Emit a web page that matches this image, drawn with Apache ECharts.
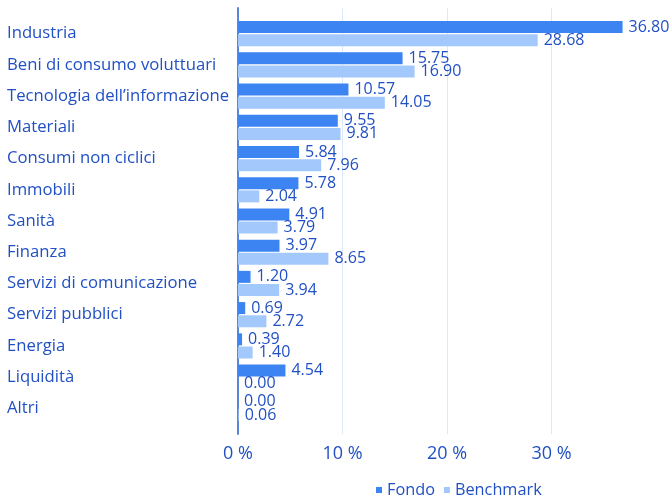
<!DOCTYPE html>
<html>
<head>
<meta charset="utf-8">
<script src="https://cdn.jsdelivr.net/npm/echarts@6/dist/echarts.min.js"></script>
<style>
  html, body { margin: 0; padding: 0; background: #fff; }
  #chart { width: 671px; height: 501px; }
</style>
</head>
<body>
<div id="chart"></div>
<script>
// ripartizione settoriale, Fondo vs Benchmark
var categories = ['Industria', 'Beni di consumo voluttuari', 'Tecnologia dell\u2019informazione', 'Materiali',
  'Consumi non ciclici', 'Immobili', 'Sanità', 'Finanza', 'Servizi di comunicazione',
  'Servizi pubblici', 'Energia', 'Liquidità', 'Altri']
var fondo = [36.80, 15.75, 10.57, 9.55, 5.84, 5.78, 4.91, 3.97, 1.20, 0.69, 0.39, 4.54, 0.00]
var benchmark = [28.68, 16.90, 14.05, 9.81, 7.96, 2.04, 3.79, 8.65, 3.94, 2.72, 1.40, 0.00, 0.06]
var xTicks = [0, 10, 20, 30]

var textColor = '#2150c4'
var font = 'Open Sans'

var chart = echarts.init(document.getElementById('chart'))

function barSeries(name, data, color) {
  return {
    name: name,
    type: 'bar',
    xAxisIndex: 0,
    yAxisIndex: 0,
    data: data,
    barWidth: 12,
    barGap: '10%',
    itemStyle: { color: color },
    label: {
      show: true,
      position: 'right',
      distance: 6,
      color: textColor,
      fontFamily: font,
      fontSize: 16,
      formatter: function (p) { return p.value.toFixed(2) }
    },
    emphasis: { disabled: true }
  }
}

chart.setOption({
  animation: false,
  textStyle: { fontFamily: font },
  legend: {
    left: 371,
    top: 477,
    icon: 'rect',
    itemWidth: 6,
    itemHeight: 6,
    itemGap: 9,
    textStyle: { color: textColor, fontSize: 16.3, fontFamily: font },
    data: ['Fondo', 'Benchmark']
  },
  grid: [
    // barre
    { left: 238, right: 15, top: 18, bottom: 77 },
    // assi e griglia
    { left: 238, right: 15, top: 8, bottom: 67 }
  ],
  xAxis: [
    {
      gridIndex: 0, type: 'value', min: 0, max: 40, interval: 10,
      show: false
    },
    {
      gridIndex: 1, type: 'value', min: 0, max: 40, interval: 10,
      axisLine: { show: false },
      axisTick: { show: false },
      splitLine: { show: true, showMaxLine: false, lineStyle: { color: '#dce8fb', width: 1 } },
      axisLabel: {
        showMaxLabel: false,
        margin: 11,
        color: textColor,
        fontSize: 18,
        fontFamily: font,
        formatter: function (v) { return xTicks.indexOf(v) >= 0 ? v + ' %' : '' }
      }
    }
  ],
  yAxis: [
    {
      gridIndex: 0, type: 'category', inverse: true, data: categories,
      axisLine: { show: false },
      axisTick: { show: false },
      splitLine: { show: false },
      axisLabel: {
        align: 'left',
        margin: 231,
        padding: [7, 0, 0, 0],
        color: textColor,
        fontSize: 16.7,
        fontFamily: font
      }
    },
    {
      gridIndex: 1, type: 'value', min: 0, max: 1,
      axisLine: { show: true, lineStyle: { color: '#5b86d8', width: 2 } },
      axisTick: { show: false },
      axisLabel: { show: false },
      splitLine: { show: false }
    }
  ],
  series: [
    barSeries('Fondo', fondo, '#3c84f2'),
    barSeries('Benchmark', benchmark, '#a3c9fc')
  ]
})
</script>
</body>
</html>
